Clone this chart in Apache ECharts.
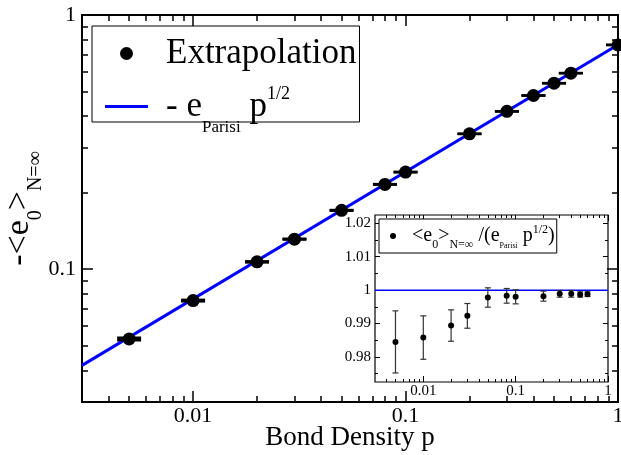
<!DOCTYPE html>
<html>
<head>
<meta charset="utf-8">
<script src="https://cdn.jsdelivr.net/npm/echarts@6/dist/echarts.min.js"></script>
<style>
html, body { margin: 0; padding: 0; background: #fff; }
#chart { width: 621px; height: 455px; }
</style>
</head>
<body>
<div id="chart"></div>
<script>
// 主图数据：外推能量
const pVals = [0.005, 0.01, 0.02, 0.03, 0.05, 0.08, 0.1, 0.2, 0.3, 0.4, 0.5, 0.6, 1.0]
const e0Vals = [0.0531, 0.0752, 0.1068, 0.1312, 0.1703, 0.2155, 0.2409, 0.3407, 0.4176, 0.4822, 0.5390, 0.5905, 0.7625]
const e0Err = [0.0006, 0.0005, 0.0005, 0.0005, 0.0005, 0.0005, 0.0005, 0.0005, 0.0004, 0.0005, 0.0004, 0.0004, 0.0005]
// Parisi 直线（两端点）
const fitP = [0.003, 1]
const fitE = [0.0418, 0.7632]

// 内嵌图数据：比值
const ratioP = [0.005, 0.01, 0.02, 0.03, 0.05, 0.08, 0.1, 0.2, 0.3, 0.4, 0.5, 0.6]
const ratioVals = [0.9845, 0.9858, 0.9894, 0.9923, 0.9978, 0.9983, 0.9980, 0.9982, 0.9989, 0.9989, 0.9987, 0.9988]
const ratioErr = [0.0093, 0.0065, 0.0047, 0.0037, 0.0029, 0.0022, 0.0021, 0.0015, 0.0010, 0.0010, 0.0008, 0.0007]
const refP = [0.003, 1]
const refRatio = [1, 1]

// 刻度
const xMajor = [0.01, 0.1, 1]
const xMinor = [0.004, 0.005, 0.006, 0.007, 0.008, 0.009, 0.02, 0.03, 0.04, 0.05, 0.06, 0.07, 0.08, 0.09,
    0.2, 0.3, 0.4, 0.5, 0.6, 0.7, 0.8, 0.9]
const yMajor = [0.1, 1]
const yMinor = [0.03, 0.04, 0.05, 0.06, 0.07, 0.08, 0.09, 0.2, 0.3, 0.4, 0.5, 0.6, 0.7, 0.8, 0.9]
const insetYMajor = [0.98, 0.99, 1, 1.01, 1.02]
const insetYMinor = [0.975, 0.985, 0.995, 1.005, 1.015]

const FONT = 'Liberation Serif'

// 生成一根只画刻度的坐标轴
function tickAxis(grid, pos, type, min, max, vals, len, width, labels, fontSize, margin) {
    return {
        gridIndex: grid,
        type: type,
        position: pos,
        min: min,
        max: max,
        axisLine: { show: false, onZero: false },
        splitLine: { show: false },
        axisTick: { show: true, inside: true, length: len, customValues: vals,
            lineStyle: { color: '#000', width: width } },
        axisLabel: labels ? {
            show: true, customValues: vals, margin: margin,
            fontFamily: FONT, fontSize: fontSize, color: '#000',
            formatter: v => String(+v.toFixed(4))
        } : { show: false }
    }
}

// 误差棒
function errorBars(capW, lw, color) {
    return function (params, api) {
        let x = api.value(0)
        let lo = api.coord([x, api.value(1)])
        let hi = api.coord([x, api.value(2)])
        let h = capW / 2
        let st = { stroke: color, lineWidth: lw }
        return {
            type: 'group',
            children: [
                { type: 'line', shape: { x1: lo[0], y1: lo[1], x2: hi[0], y2: hi[1] }, style: st },
                { type: 'line', shape: { x1: lo[0] - h, y1: lo[1], x2: lo[0] + h, y2: lo[1] }, style: st },
                { type: 'line', shape: { x1: hi[0] - h, y1: hi[1], x2: hi[0] + h, y2: hi[1] }, style: st }
            ]
        }
    }
}

let xAxes = [
    tickAxis(0, 'bottom', 'log', 0.003, 1, xMajor, 11, 1.5, true, 22, 3),
    tickAxis(0, 'bottom', 'log', 0.003, 1, xMinor, 6, 1.5, false),
    tickAxis(0, 'top', 'log', 0.003, 1, xMajor, 11, 1.5, false),
    tickAxis(0, 'top', 'log', 0.003, 1, xMinor, 6, 1.5, false),
    tickAxis(1, 'bottom', 'log', 0.003, 1, xMajor, 6, 1, true, 15, 2),
    tickAxis(1, 'bottom', 'log', 0.003, 1, xMinor, 3, 1, false),
    tickAxis(1, 'top', 'log', 0.003, 1, xMajor, 6, 1, false),
    tickAxis(1, 'top', 'log', 0.003, 1, xMinor, 3, 1, false)
]
xAxes[0].name = 'Bond Density p'
xAxes[0].nameLocation = 'middle'
xAxes[0].nameGap = 22
xAxes[0].nameMoveOverlap = false
xAxes[0].nameTextStyle = { fontFamily: FONT, fontSize: 27, color: '#000' }

let yAxes = [
    tickAxis(0, 'left', 'log', 0.03, 1, yMajor, 11, 1.5, true, 22, 6),
    tickAxis(0, 'left', 'log', 0.03, 1, yMinor, 6, 1.5, false),
    tickAxis(0, 'right', 'log', 0.03, 1, yMajor, 11, 1.5, false),
    tickAxis(0, 'right', 'log', 0.03, 1, yMinor, 6, 1.5, false),
    tickAxis(1, 'left', 'value', 0.9725, 1.0225, insetYMajor, 5, 1, true, 15, 4),
    tickAxis(1, 'left', 'value', 0.9725, 1.0225, insetYMinor, 3, 1, false),
    tickAxis(1, 'right', 'value', 0.9725, 1.0225, insetYMajor, 5, 1, false),
    tickAxis(1, 'right', 'value', 0.9725, 1.0225, insetYMinor, 3, 1, false)
]
yAxes[0].name = '{m|-<e}{s|0}{m|>}{s|N=∞}'
yAxes[0].nameLocation = 'middle'
yAxes[0].nameRotate = 90
yAxes[0].nameGap = 46
yAxes[0].nameMoveOverlap = false
yAxes[0].nameTextStyle = {
    fontFamily: FONT, color: '#000',
    rich: {
        m: { fontFamily: FONT, fontSize: 34, color: '#000' },
        s: { fontFamily: FONT, fontSize: 20, color: '#000', lineHeight: 22, padding: [34, 0, 0, 0] }
    }
}

let option = {
    animation: false,
    backgroundColor: '#fff',
    grid: [
        { left: 82, right: 3, top: 15, bottom: 53, containLabel: false, outerBoundsMode: 'none',
            show: true, borderColor: '#000', borderWidth: 2, backgroundColor: 'transparent' },
        { left: 375, right: 13, top: 215, bottom: 73, containLabel: false, outerBoundsMode: 'none',
            show: true, borderColor: '#000', borderWidth: 1.2, backgroundColor: '#fff' }
    ],
    xAxis: xAxes,
    yAxis: yAxes,
    legend: [
        {
            data: ['Extrapolation', { name: 'Parisi', icon: 'path://M0,0H43V3H0Z' }],
            orient: 'vertical',
            left: 92,
            top: 26,
            padding: [10, 3, -14, 13],
            itemWidth: 43,
            itemHeight: 13,
            itemGap: 6,
            selectedMode: false,
            borderColor: '#000',
            borderWidth: 1,
            backgroundColor: '#fff',
            formatter: name => name === 'Parisi'
                ? '{m0|- e}{sub|Parisi}{m| p}{sup|1/2}'
                : '{m0|Extrapolation}',
            textStyle: {
                fontFamily: FONT, color: '#000',
                rich: {
                    m0: { fontFamily: FONT, fontSize: 35, color: '#000', padding: [0, 0, 0, 13] },
                    m: { fontFamily: FONT, fontSize: 35, color: '#000' },
                    sub: { fontFamily: FONT, fontSize: 17, color: '#000', lineHeight: 20, padding: [42, 0, 0, 0] },
                    sup: { fontFamily: FONT, fontSize: 18, color: '#000', lineHeight: 20, padding: [0, 0, 24, 0] }
                }
            }
        },
        {
            data: [{ name: 'Ratio', icon: 'circle' }],
            orient: 'vertical',
            left: 379,
            top: 219,
            padding: [2, 2, 2, 11],
            itemWidth: 28,
            itemHeight: 6,
            selectedMode: false,
            borderColor: '#000',
            borderWidth: 1,
            backgroundColor: '#fff',
            formatter: () => '{m|<e}{s|0}{m|>}{s|N=∞}{m| /(e}{ps|Parisi}{m| p}{sup|1/2}{m|)}',
            textStyle: {
                fontFamily: FONT, color: '#000',
                rich: {
                    m: { fontFamily: FONT, fontSize: 20, color: '#000' },
                    s: { fontFamily: FONT, fontSize: 12, color: '#000', lineHeight: 14, padding: [18, 0, 0, 0] },
                    ps: { fontFamily: FONT, fontSize: 8, color: '#000', lineHeight: 10, padding: [20, 0, 0, 0] },
                    sup: { fontFamily: FONT, fontSize: 12, color: '#000', lineHeight: 14, padding: [0, 0, 12, 0] }
                }
            }
        }
    ],
    series: [
        {
            name: 'Parisi',
            type: 'line',
            xAxisIndex: 0,
            yAxisIndex: 0,
            data: fitP.map((p, i) => [p, fitE[i]]),
            symbol: 'none',
            lineStyle: { color: '#0000ff', width: 3 },
            itemStyle: { color: '#0000ff' },
            z: 2
        },
        {
            name: 'Extrapolation',
            type: 'scatter',
            xAxisIndex: 0,
            yAxisIndex: 0,
            data: pVals.map((p, i) => [p, e0Vals[i]]),
            symbol: 'circle',
            symbolSize: 13,
            itemStyle: { color: '#000', opacity: 1 },
            z: 4
        },
        {
            type: 'custom',
            xAxisIndex: 0,
            yAxisIndex: 0,
            data: pVals.map((p, i) => [p, e0Vals[i] - e0Err[i], e0Vals[i] + e0Err[i]]),
            encode: { x: 0, y: [1, 2] },
            renderItem: errorBars(24, 2.5, '#000'),
            z: 5
        },
        {
            name: 'Ref',
            type: 'line',
            xAxisIndex: 4,
            yAxisIndex: 4,
            data: refP.map((p, i) => [p, refRatio[i]]),
            symbol: 'none',
            lineStyle: { color: '#0000ff', width: 1.5 },
            z: 2
        },
        {
            type: 'custom',
            xAxisIndex: 4,
            yAxisIndex: 4,
            data: ratioP.map((p, i) => [p, ratioVals[i] - ratioErr[i], ratioVals[i] + ratioErr[i]]),
            encode: { x: 0, y: [1, 2] },
            renderItem: errorBars(6, 1.2, '#333'),
            z: 3
        },
        {
            name: 'Ratio',
            type: 'scatter',
            xAxisIndex: 4,
            yAxisIndex: 4,
            data: ratioP.map((p, i) => [p, ratioVals[i]]),
            symbol: 'circle',
            symbolSize: 6,
            itemStyle: { color: '#000', opacity: 1 },
            z: 4
        }
    ]
}

let chartDom = echarts.init(document.querySelector('#chart'))
chartDom.setOption(option)
</script>
</body>
</html>
